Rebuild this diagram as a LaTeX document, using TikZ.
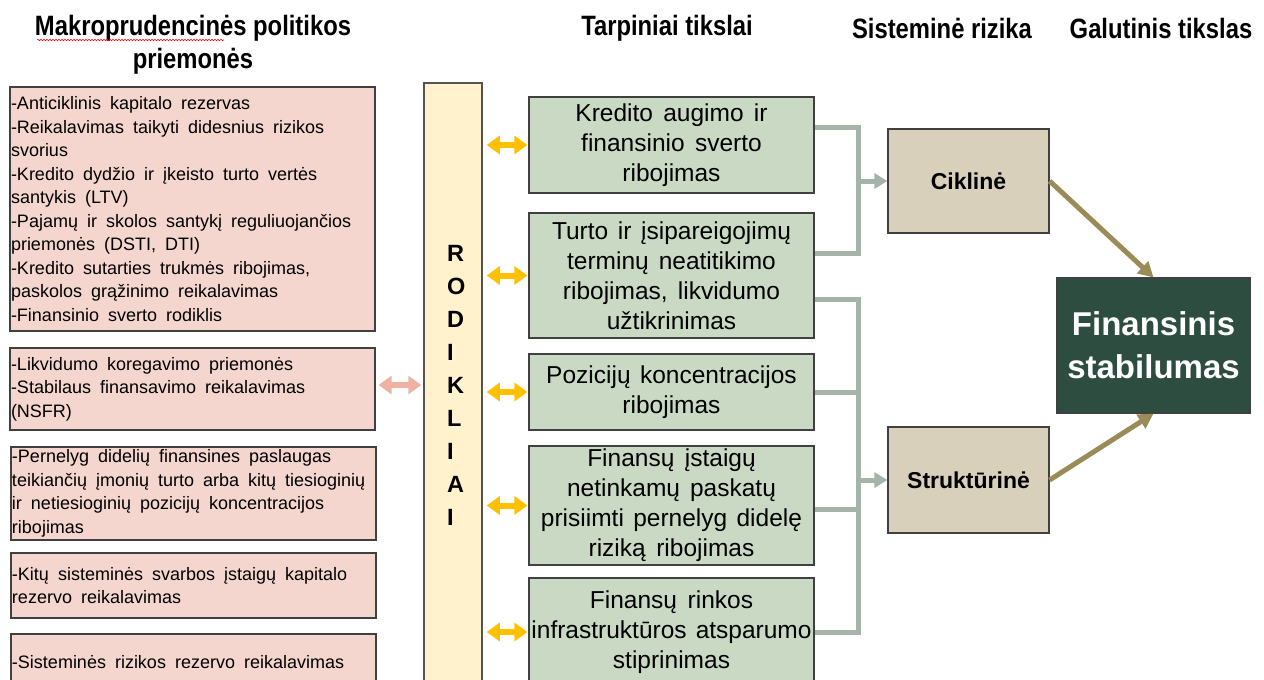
\documentclass[tikz,border=0pt]{standalone}
\usepackage{fontspec}
\setmainfont{Liberation Sans}
\newfontfamily\hdrfont[FakeStretch=0.85]{Liberation Sans}
\usetikzlibrary{arrows.meta,decorations.pathmorphing}
\definecolor{pinkfill}{HTML}{F5D6CE}
\definecolor{greenfill}{HTML}{C9D9C4}
\definecolor{colfill}{HTML}{FFF2CC}
\definecolor{tanfill}{HTML}{D9D0BB}
\definecolor{darkgreen}{HTML}{2C4D3F}
\definecolor{grayline}{HTML}{A5B3A9}
\definecolor{brownline}{HTML}{9A8C58}
\definecolor{yellowarr}{HTML}{FFC000}
\definecolor{pinkarr}{HTML}{EFB1A2}
\definecolor{borderc}{HTML}{404040}
\newcommand{\lsp}{\spaceskip=0.5em plus 0.05em minus 0.1em\relax}
\newcommand{\msp}{\spaceskip=0.37em plus 0.05em minus 0.1em\relax}
\begin{document}
\begin{tikzpicture}[x=1pt,y=-1pt,
  hdr/.style={font=\hdrfont\bfseries\fontsize{28}{33}\selectfont, align=center, inner sep=0pt},
  lbox/.style={draw=borderc, line width=1.2pt, fill=pinkfill, text width=363pt, inner xsep=1pt, inner ysep=0pt, align=left,
     font=\fontsize{18}{23.5}\selectfont},
  mbox/.style={draw=borderc, line width=1.2pt, fill=greenfill, text width=285pt, inner xsep=0pt, inner ysep=0pt, align=center,
     font=\fontsize{24.5}{30}\selectfont},
  colbox/.style={draw=borderc!90, line width=1.5pt, fill=colfill, minimum width=58pt, inner sep=0pt},
  rodtext/.style={font=\bfseries\fontsize{23.5}{33}\selectfont, align=left, inner sep=0pt, anchor=west},
  rbox/.style={draw=borderc, line width=1.2pt, fill=tanfill, minimum width=161pt, inner sep=0pt, font=\bfseries\fontsize{23}{28}\selectfont},
  fbox/.style={draw=borderc, line width=1.2pt, fill=darkgreen, text=white, minimum width=193pt, minimum height=135pt, inner sep=0pt, align=center,
     font=\bfseries\fontsize{33}{43}\selectfont},
  yarrow/.style={draw=yellowarr, line width=6pt, {Triangle[length=13pt,width=18pt]}-{Triangle[length=13pt,width=18pt]}},
  parrow/.style={draw=pinkarr, line width=6pt, {Triangle[length=13pt,width=18pt]}-{Triangle[length=13pt,width=18pt]}},
  gline/.style={draw=grayline, line width=5pt},
  garrow/.style={draw=grayline, line width=5pt, -{Triangle[length=13pt,width=15pt]}},
  barrow/.style={draw=brownline, line width=5pt, -{Triangle[length=15pt,width=16pt]}}
]
\useasboundingbox (0,0) rectangle (1264,680);
\clip (0,0) rectangle (1264,680);

% headers
\node[hdr] (h1) at (193,45) {Makroprudencinės politikos\\priemonės};
\draw[red, line width=0.6pt, decorate, decoration={snake, amplitude=0.7pt, segment length=3pt}] (37,40) -- (224,40);
\node[hdr] (h2) at (667,28.5) {Tarpiniai tikslai};
\node[hdr] (h3) at (942,28.5) {Sisteminė rizika};
\node[hdr] (h4) at (1161,28.5) {Galutinis tikslas};

% left boxes
\node[lbox, minimum height=244pt] (L1) at (192.5,209) {\lsp -Anticiklinis kapitalo rezervas\\
-Reikalavimas taikyti didesnius rizikos\\
svorius\\
-Kredito dydžio ir įkeisto turto vertės\\
santykis (LTV)\\
-Pajamų ir skolos santykį reguliuojančios\\
priemonės (DSTI, DTI)\\
-Kredito sutarties trukmės ribojimas,\\
paskolos grąžinimo reikalavimas\\
-Finansinio sverto rodiklis};
\node[lbox, minimum height=82pt] (L2) at (192.5,389) {\lsp -Likvidumo koregavimo priemonės\\
-Stabilaus finansavimo reikalavimas\\
(NSFR)};
\node[lbox, minimum height=93pt] (L3) at (193.5,493.5) {\lsp -Pernelyg didelių finansines paslaugas\\
teikiančių įmonių turto arba kitų tiesioginių\\
ir netiesioginių pozicijų koncentracijos\\
ribojimas};
\node[lbox, minimum height=65pt] (L4) at (193.5,585.5) {\lsp -Kitų sisteminės svarbos įstaigų kapitalo\\
rezervo reikalavimas};
\node[lbox, minimum height=60pt] (L5) at (193.5,664) {\lsp \raisebox{4pt}{-Sisteminės rizikos rezervo reikalavimas}};

% indicator column
\node[colbox, minimum height=605pt] (rod) at (453,385.5) {};
\node[rodtext] (rodt) at (447,385.5) {R\\O\\D\\I\\K\\L\\I\\A\\I};

% middle boxes
\node[mbox, minimum height=96pt] (M1) at (671.5,145) {\msp Kredito augimo ir\\finansinio sverto\\ribojimas};
\node[mbox, minimum height=125pt] (M2) at (671.5,275.5) {\msp Turto ir įsipareigojimų\\terminų neatitikimo\\ribojimas, likvidumo\\užtikrinimas};
\node[mbox, minimum height=76pt] (M3) at (671.5,392) {\msp Pozicijų koncentracijos\\ribojimas};
\node[mbox, minimum height=119pt] (M4) at (671.5,505.5) {\msp Finansų įstaigų\\netinkamų paskatų\\prisiimti pernelyg didelę\\riziką ribojimas};
\node[mbox, minimum height=108pt] (M5) at (671.5,632) {\msp Finansų rinkos\\infrastruktūros atsparumo\\stiprinimas};

% right boxes
\node[rbox, minimum height=104pt] (Cik) at (968.5,181) {Ciklinė};
\node[rbox, minimum height=106pt] (Str) at (968.5,480) {Struktūrinė};
\node[fbox] (Fin) at (1153.5,345.5) {Finansinis\\stabilumas};

% yellow double arrows
\foreach \m in {M1,M2,M3,M4,M5}{
  \draw[yarrow, shorten <=4pt, shorten >=1pt] (rod.east |- \m.west) -- (\m.west);
}
% pink double arrow
\draw[parrow, shorten <=3pt, shorten >=2pt] ([yshift=4pt]L2.east) -- ([yshift=4pt]L2.east -| rod.west);

% gray brackets
\coordinate (bx) at (858,0);
\draw[gline] ([yshift=18pt]M1.east) -| ([yshift=22.5pt]M2.east -| bx) -- ([yshift=22.5pt]M2.east);
\draw[garrow] (bx |- Cik.west) -- (Cik.west);
\draw[gline] ([yshift=-23.5pt]M2.east) -| (bx |- M5.east) -- (M5.east);
\draw[gline] (M3.east) -- (bx |- M3.east);
\draw[gline] ([yshift=-3.5pt]M4.east) -- ([yshift=-3.5pt]M4.east -| bx);
\draw[garrow] (bx |- Str.west) -- (Str.west);

% brown arrows
\draw[barrow] (Cik.east) -- (Fin.north);
\draw[barrow] (Str.east) -- (Fin.south);
\end{tikzpicture}
\end{document}
